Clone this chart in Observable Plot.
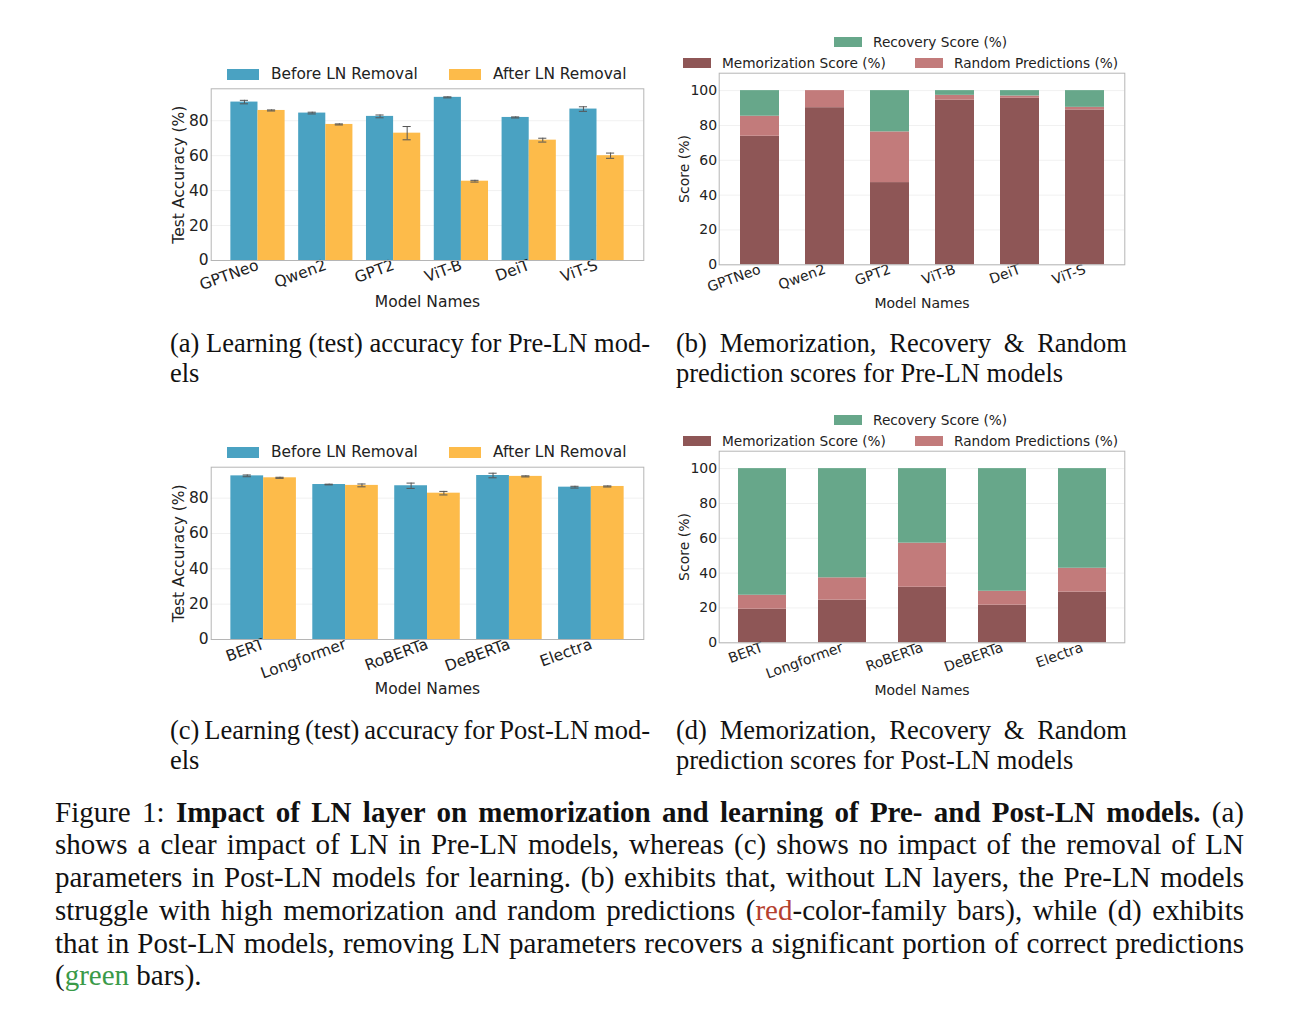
<!DOCTYPE html>
<html><head><meta charset="utf-8">
<script src="https://cdn.jsdelivr.net/npm/d3@7"></script>
<script src="https://cdn.jsdelivr.net/npm/@observablehq/plot@0.6"></script>
<style>
html,body{margin:0;padding:0;background:#fff;}
body{width:1298px;height:1023px;position:relative;overflow:hidden;}
.leg{position:absolute;font-family:"DejaVu Sans";white-space:nowrap;color:#222;}
.cap{position:absolute;font-family:"Liberation Serif",serif;color:#111;white-space:nowrap;}
.just{text-align:justify;text-align-last:justify;}
</style></head><body>
<script>
// ---------- data ----------
const preModels = ["GPTNeo", "Qwen2", "GPT2", "ViT-B", "DeiT", "ViT-S"];
const preBefore = [90.7, 84.4, 82.5, 93.4, 81.9, 86.7];
const preBeforeErr = [1.0, 0.5, 0.8, 0.3, 0.3, 1.3];
const preAfter = [85.9, 77.9, 72.9, 45.4, 68.9, 60.0];
const preAfterErr = [0.3, 0.3, 3.8, 0.5, 1.1, 1.5];

const postModels = ["BERT", "Longformer", "RoBERTa", "DeBERTa", "Electra"];
const postBefore = [92.6, 87.7, 87.0, 92.8, 86.2];
const postBeforeErr = [0.5, 0.2, 1.5, 1.3, 0.5];
const postAfter = [91.5, 87.2, 82.8, 92.3, 86.6];
const postAfterErr = [0.3, 0.8, 1.0, 0.3, 0.3];

const preMem = [73.8, 90.2, 47.2, 94.5, 95.6, 88.9];
const preRand = [11.5, 9.8, 29.1, 2.8, 1.3, 1.5];
const preRec = [14.7, 0.0, 23.7, 2.7, 3.1, 9.6];

const postMem = [19.3, 24.5, 31.9, 21.6, 29.1];
const postRand = [8.0, 12.8, 25.3, 8.0, 13.7];
const postRec = [72.7, 62.7, 42.8, 70.4, 57.2];

const accTicks = [0, 20, 40, 60, 80];
const scoreTicks = [0, 20, 40, 60, 80, 100];
const seriesNames = ["Memorization Score (%)", "Random Predictions (%)", "Recovery Score (%)"];
const groupNames = ["Before LN Removal", "After LN Removal"];

// ---------- styles ----------
const BLUE = "#4aa2c2", ORANGE = "#fdbb4a", ERR = "#555";
const MEM = "#8e5656", RAND = "#c27b7b", REC = "#67a78a";
const FRAME = "#b5b5b5";

function place(el, left, top) {
  el.style.position = "absolute"; el.style.left = left + "px"; el.style.top = top + "px";
  document.body.appendChild(el); return el;
}

function groupedChart(models, before, beforeErr, after, afterErr, o) {
  const rows = models.map((m, i) => ({i, m, b: before[i], be: beforeErr[i], a: after[i], ae: afterErr[i]}));
  const bw = 0.4, cap = o.cap;
  const eb = (cx, v, e) => [
    Plot.ruleX(rows, {x: cx, y1: d => v(d) - e(d), y2: d => v(d) + e(d), stroke: ERR, strokeWidth: 1}),
    Plot.ruleY(rows, {x1: d => cx(d) - cap, x2: d => cx(d) + cap, y: d => v(d) + e(d), stroke: ERR, strokeWidth: 1}),
    Plot.ruleY(rows, {x1: d => cx(d) - cap, x2: d => cx(d) + cap, y: d => v(d) - e(d), stroke: ERR, strokeWidth: 1})
  ];
  return Plot.plot({
    width: o.width, height: o.height,
    marginLeft: o.ml, marginRight: o.mr, marginTop: o.mt, marginBottom: o.mb,
    style: {fontFamily: "DejaVu Sans", fontSize: o.fs + "px", color: "#222", background: "transparent", overflow: "visible"},
    x: {type: "linear", domain: [-bw - o.mx, models.length - 1 + bw + o.mx]},
    y: {domain: [0, o.ymax]},
    marks: [
      Plot.gridY(accTicks, {stroke: "#000", strokeOpacity: 0.06}),
      Plot.rectY(rows, {x1: d => d.i - bw, x2: d => d.i, y1: 0, y2: "b", fill: BLUE}),
      Plot.rectY(rows, {x1: d => d.i, x2: d => d.i + bw, y1: 0, y2: "a", fill: ORANGE}),
      ...eb(d => d.i - bw / 2, d => d.b, d => d.be),
      ...eb(d => d.i + bw / 2, d => d.a, d => d.ae),
      Plot.axisX({ticks: rows.map(d => d.i), tickFormat: i => models[i], tickSize: 0, tickPadding: 4,
        tickRotate: -20, fontSize: o.fs, label: "Model Names", labelAnchor: "center", labelArrow: "none", labelOffset: o.xlo}),
      Plot.axisY({ticks: accTicks, tickSize: 0, tickPadding: 2.5, fontSize: o.fs, label: "Test Accuracy (%)",
        labelAnchor: "center", labelArrow: "none", labelOffset: o.ylo}),
      Plot.frame({stroke: FRAME, strokeWidth: 1})
    ]
  });
}

function stackedChart(models, mem, rand, rec, o) {
  const rows = [];
  models.forEach((m, i) => {
    rows.push({m, s: seriesNames[0], v: mem[i]});
    rows.push({m, s: seriesNames[1], v: rand[i]});
    rows.push({m, s: seriesNames[2], v: rec[i]});
  });
  return Plot.plot({
    width: o.width, height: o.height,
    marginLeft: o.ml, marginRight: o.mr, marginTop: o.mt, marginBottom: o.mb,
    style: {fontFamily: "DejaVu Sans", fontSize: o.fs + "px", color: "#222", background: "transparent", overflow: "visible"},
    x: {type: "band", domain: models, paddingInner: 0.4, paddingOuter: o.po},
    y: {domain: [0, 110]},
    color: {domain: seriesNames, range: [MEM, RAND, REC]},
    marks: [
      Plot.gridY(scoreTicks, {stroke: "#000", strokeOpacity: 0.06}),
      Plot.barY(rows, {x: "m", y: "v", fill: "s"}),
      Plot.axisX({tickSize: 0, tickPadding: 4, tickRotate: -20, fontSize: o.fs, label: "Model Names",
        labelAnchor: "center", labelArrow: "none", labelOffset: o.xlo}),
      Plot.axisY({ticks: scoreTicks, tickSize: 0, tickPadding: 2, fontSize: o.fs, label: "Score (%)",
        labelAnchor: "center", labelArrow: "none", labelOffset: o.ylo}),
      Plot.frame({stroke: FRAME, strokeWidth: 1})
    ]
  });
}

function legendItem(color, text, swX, swY, swW, swH, txX, cy, fs) {
  const sw = document.createElement("div");
  sw.style.width = swW + "px"; sw.style.height = swH + "px"; sw.style.background = color;
  place(sw, swX, swY);
  const t = document.createElement("div");
  t.className = "leg"; t.textContent = text; t.style.fontSize = fs + "px";
  t.style.lineHeight = "20px"; t.style.height = "20px";
  place(t, txX, cy - 10);
}

function capLine(html, left, cy, width, fs, lh, justify) {
  const d = document.createElement("div");
  d.className = "cap" + (justify ? " just" : "");
  d.style.fontSize = fs + "px"; d.style.lineHeight = lh + "px"; d.style.height = lh + "px";
  if (width) d.style.width = width + "px";
  if (justify) d.style.wordSpacing = "-2px";
  d.innerHTML = html;
  place(d, left, cy - lh / 2);
}

// ---------- panel (a) ----------
place(groupedChart(preModels, preBefore, preBeforeErr, preAfter, preAfterErr,
  {width: 500, height: 240, ml: 50.7, mr: 16.7, mt: 8.3, mb: 60, fs: 15.5, mx: 0.29, ymax: 98.3, cap: 0.06, xlo: 46, ylo: 38}), 160, 80);
legendItem(BLUE, groupNames[0], 227, 69, 32, 11, 271, 74, 15.4);
legendItem(ORANGE, groupNames[1], 449, 69, 32, 11, 493, 74, 15.4);

// ---------- panel (b) ----------
place(stackedChart(preModels, preMem, preRand, preRec,
  {width: 470, height: 260, ml: 50.7, mr: 13.7, mt: 6.7, mb: 61.7, fs: 14, po: 0.28, xlo: 43, ylo: 40}), 668, 66);
legendItem(REC, seriesNames[2], 834, 37, 28, 10, 873, 42, 13.7);
legendItem(MEM, seriesNames[0], 683, 58, 28, 10, 722, 63, 13.7);
legendItem(RAND, seriesNames[1], 915, 58, 28, 10, 954, 63, 13.7);

// ---------- panel (c) ----------
place(groupedChart(postModels, postBefore, postBeforeErr, postAfter, postAfterErr,
  {width: 500, height: 240, ml: 50.7, mr: 16.7, mt: 8.7, mb: 59, fs: 15.5, mx: 0.24, ymax: 97.5, cap: 0.05, xlo: 54, ylo: 38}), 160, 458);
legendItem(BLUE, groupNames[0], 227, 447, 32, 11, 271, 452, 15.4);
legendItem(ORANGE, groupNames[1], 449, 447, 32, 11, 493, 452, 15.4);

// ---------- panel (d) ----------
place(stackedChart(postModels, postMem, postRand, postRec,
  {width: 470, height: 260, ml: 50.7, mr: 13.7, mt: 6.7, mb: 61.7, fs: 14, po: 0.23, xlo: 52, ylo: 40}), 668, 444);
legendItem(REC, seriesNames[2], 834, 415, 28, 10, 873, 420, 13.7);
legendItem(MEM, seriesNames[0], 683, 436, 28, 10, 722, 441, 13.7);
legendItem(RAND, seriesNames[1], 915, 436, 28, 10, 954, 441, 13.7);

// ---------- sub-captions ----------
const SFS = 26.5, SLH = 30;
capLine("(a) Learning (test) accuracy for Pre-LN mod-", 170, 343, 480, SFS, SLH, true);
capLine("els", 170, 373, 0, SFS, SLH, false);
capLine("(b) Memorization, Recovery &amp; Random", 676, 343, 451, SFS, SLH, true);
capLine("prediction scores for Pre-LN models", 676, 373, 0, SFS, SLH, false);
capLine("(c) Learning (test) accuracy for Post-LN mod-", 170, 730, 480, SFS, SLH, true);
capLine("els", 170, 760, 0, SFS, SLH, false);
capLine("(d) Memorization, Recovery &amp; Random", 676, 730, 451, SFS, SLH, true);
capLine("prediction scores for Post-LN models", 676, 760, 0, SFS, SLH, false);

// ---------- figure caption ----------
const FFS = 29, FLH = 33, FX = 55, FW = 1189;
const lines = [
  "Figure 1: <b>Impact of LN layer on memorization and learning of Pre- and Post-LN models.</b> (a)",
  "shows a clear impact of LN in Pre-LN models, whereas (c) shows no impact of the removal of LN",
  "parameters in Post-LN models for learning. (b) exhibits that, without LN layers, the Pre-LN models",
  "struggle with high memorization and random predictions (<span style=\"color:#b5402e\">red</span>-color-family bars), while (d) exhibits",
  "that in Post-LN models, removing LN parameters recovers a significant portion of correct predictions",
  "(<span style=\"color:#3a9a48\">green</span> bars)."
];
const lineY = [812, 844, 877, 910, 943, 975];
lines.forEach((l, i) => capLine(l, FX, lineY[i], i < lines.length - 1 ? FW : 0, FFS, FLH, i < lines.length - 1));
</script>
</body></html>
